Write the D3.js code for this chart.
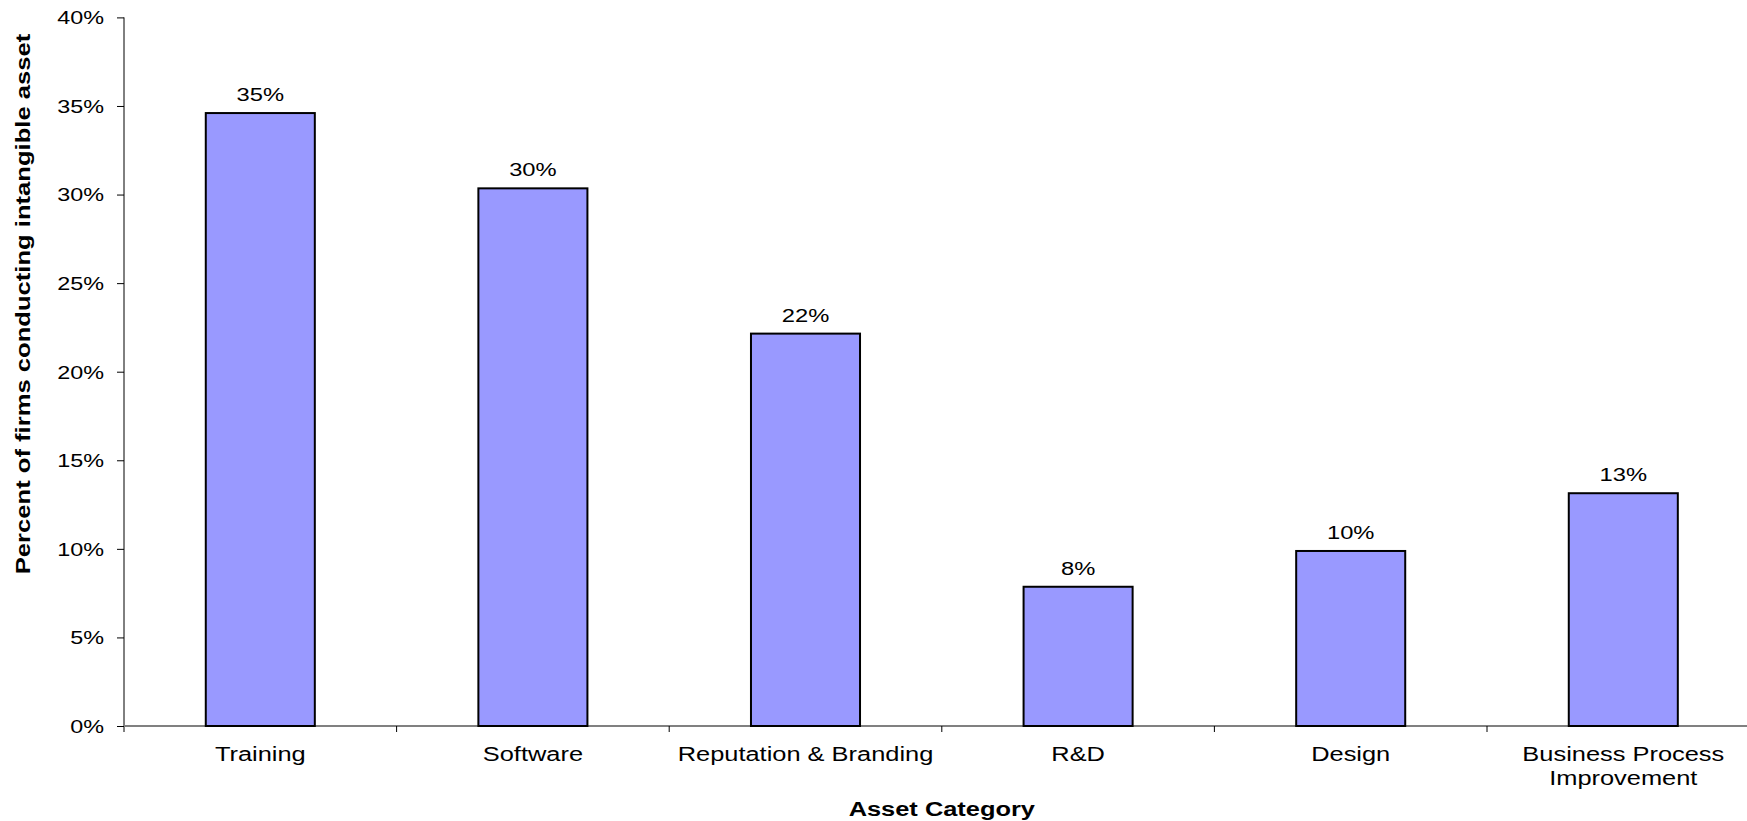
<!DOCTYPE html>
<html>
<head>
<meta charset="utf-8">
<script src="https://cdn.jsdelivr.net/npm/d3@7"></script>
<style>
  html, body { margin: 0; padding: 0; background: #fff; }
  svg { display: block; font-family: "Liberation Sans", Arial, sans-serif; }
</style>
</head>
<body>
<svg id="chart" width="1747" height="821"></svg>
<script>
const categories = ["Training", "Software", "Reputation & Branding", "R&D", "Design", "Business Process Improvement"];
const categoryLines = [["Training"], ["Software"], ["Reputation & Branding"], ["R&D"], ["Design"], ["Business Process", "Improvement"]];
const values = [0.346, 0.3035, 0.2215, 0.0786, 0.0988, 0.1314];
const yTicks = [0, 0.05, 0.10, 0.15, 0.20, 0.25, 0.30, 0.35, 0.40];
const yTitle = "Percent of firms conducting intangible asset";
const xTitle = "Asset Category";

const svg = d3.select("#chart");
const x0 = 124, x1 = 1759.6, yBottom = 726, yTop = 17.4;

const x = d3.scaleBand().domain(categories).range([x0, x1]).paddingInner(0).paddingOuter(0);
const y = d3.scaleLinear().domain([0, 0.4]).range([yBottom, yTop]);
const pct = d3.format(".0%");

// Y axis
const yAxis = d3.axisLeft(y).tickValues(yTicks).tickFormat(pct).tickSize(7).tickSizeOuter(0);
const yG = svg.append("g").attr("transform", `translate(${x0},0)`).call(yAxis);
yG.select(".domain").remove();
yG.selectAll(".tick line").attr("stroke", "#000").attr("stroke-width", 1);
const sxTick = 1.3;
yG.selectAll(".tick text")
  .attr("font-size", 18)
  .attr("font-family", "Liberation Sans, Arial, sans-serif")
  .attr("fill", "#000")
  .attr("x", -20 / sxTick)
  .attr("dy", "0.35em")
  .attr("transform", `scale(${sxTick},1)`);
svg.append("line")
  .attr("x1", x0).attr("x2", x0)
  .attr("y1", y(0.4)).attr("y2", yBottom + 6)
  .attr("stroke", "#000").attr("stroke-width", 1);

// X axis line (gray)
svg.append("line")
  .attr("x1", x0).attr("x2", 1747)
  .attr("y1", yBottom).attr("y2", yBottom)
  .attr("stroke", "#808080").attr("stroke-width", 2);

// X ticks at band boundaries
const boundaries = categories.map(c => x(c)).concat([x1]);
svg.append("g").selectAll("line").data(boundaries.slice(1)).join("line")
  .attr("x1", d => d).attr("x2", d => d)
  .attr("y1", yBottom).attr("y2", yBottom + 6)
  .attr("stroke", "#000").attr("stroke-width", 1);

// Bars
const barFrac = 0.4;
svg.append("g").selectAll("rect").data(values).join("rect")
  .attr("x", (d, i) => x(categories[i]) + x.bandwidth() * (1 - barFrac) / 2)
  .attr("width", x.bandwidth() * barFrac)
  .attr("y", d => y(d))
  .attr("height", d => yBottom - y(d))
  .attr("fill", "#9999FF")
  .attr("stroke", "#000")
  .attr("stroke-width", 2);

// Helper to draw horizontally-stretched text
function stretchedText(parent, tx, ty, str, opts) {
  const g = parent.append("g").attr("transform", `translate(${tx},${ty}) ${opts.rotate ? "rotate(-90)" : ""} scale(${opts.sx},1)`);
  g.append("text")
    .attr("text-anchor", opts.anchor || "middle")
    .attr("font-size", opts.size)
    .attr("font-weight", opts.weight || "normal")
    .attr("fill", "#000")
    .text(str);
  return g;
}

// Value labels
values.forEach((v, i) => {
  const cx = x(categories[i]) + x.bandwidth() / 2;
  stretchedText(svg, cx, y(v) - 12, pct(v), { sx: 1.32, size: 18 });
});

// Category labels
categoryLines.forEach((lines, i) => {
  const cx = x(categories[i]) + x.bandwidth() / 2;
  lines.forEach((ln, j) => {
    stretchedText(svg, cx, 761 + j * 24, ln, { sx: 1.27, size: 20 });
  });
});

// Axis titles
stretchedText(svg, (x0 + x1) / 2, 816, xTitle, { sx: 1.27, size: 20, weight: "bold" });
stretchedText(svg, 30, 304, yTitle, { sx: 1.28, size: 20, weight: "bold", rotate: true });
</script>
</body>
</html>
